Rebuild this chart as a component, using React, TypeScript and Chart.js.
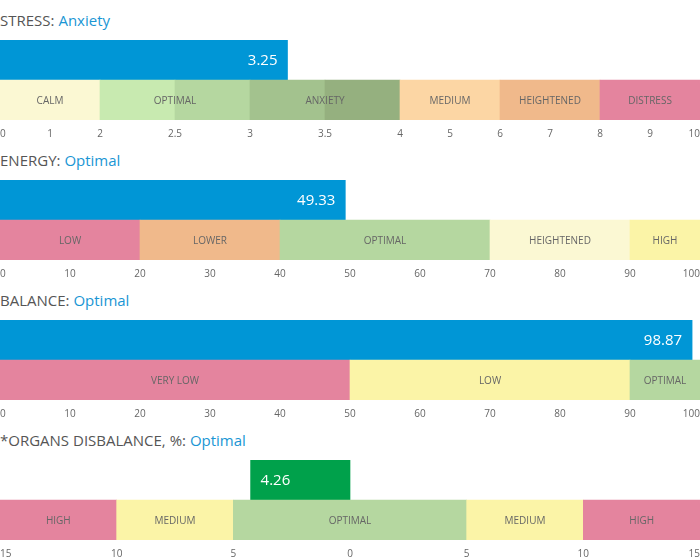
import React, { useEffect, useRef } from 'react';
import { Chart, registerables, LinearScale } from 'chart.js';

// ---------- DATA ----------
const stressTitle = 'STRESS:';
const stressStatus = 'Anxiety';
const stressValue = 3.25;
const stressBandEdges = [0, 2, 2.5, 3, 3.5, 4, 6, 8, 10];
const stressBandColors = ['#fbf8d3', '#c8eab0', '#b5d7a0', '#a3c28e', '#95b07f', '#fcd6a4', '#f0b98b', '#e4849e'];
const stressZoneEdges = [0, 2, 3, 4, 6, 8, 10];
const stressZoneLabels = ['CALM', 'OPTIMAL', 'ANXIETY', 'MEDIUM', 'HEIGHTENED', 'DISTRESS'];
const stressTicks = [0, 1, 2, 2.5, 3, 3.5, 4, 5, 6, 7, 8, 9, 10];
const stressBreaks = [0, 2, 4, 10];
const stressWeights = [1, 3, 3];

const energyTitle = 'ENERGY:';
const energyStatus = 'Optimal';
const energyValue = 49.33;
const energyBandEdges = [0, 20, 40, 70, 90, 100];
const energyBandColors = ['#e4849e', '#f0b98b', '#b5d7a0', '#fbf8d3', '#fbf4a7'];
const energyZoneLabels = ['LOW', 'LOWER', 'OPTIMAL', 'HEIGHTENED', 'HIGH'];

const balanceTitle = 'BALANCE:';
const balanceStatus = 'Optimal';
const balanceValue = 98.87;
const balanceBandEdges = [0, 50, 90, 100];
const balanceBandColors = ['#e4849e', '#fbf4a7', '#b5d7a0'];
const balanceZoneLabels = ['VERY LOW', 'LOW', 'OPTIMAL'];

const organsTitle = '*ORGANS DISBALANCE, %:';
const organsStatus = 'Optimal';
const organsValue = -4.26;
const organsBandEdges = [-15, -10, -5, 5, 10, 15];
const organsBandColors = ['#e4849e', '#fbf4a7', '#b5d7a0', '#fbf4a7', '#e4849e'];
const organsZoneLabels = ['HIGH', 'MEDIUM', 'OPTIMAL', 'MEDIUM', 'HIGH'];

const blueBar = '#0096d6';
const greenBar = '#00a14b';

// ---------- piecewise linear scale ----------
class PiecewiseScale extends (LinearScale as any) {
  static id = 'piecewise';
  static defaults = (LinearScale as any).defaults;
  toDecimal(v: number) {
    const { breaks, weights } = (this as any).options;
    const total = weights.reduce((a: number, b: number) => a + b, 0);
    let acc = 0;
    for (let i = 0; i < weights.length; i++) {
      const a = breaks[i], b = breaks[i + 1];
      if (v <= b || i === weights.length - 1) {
        return (acc + (weights[i] * (v - a)) / (b - a)) / total;
      }
      acc += weights[i];
    }
    return 0;
  }
  getPixelForValue(value: any) {
    if (value === null || value === undefined || isNaN(value)) return NaN;
    return (this as any).getPixelForDecimal(this.toDecimal(value));
  }
  getValueForPixel(pixel: number) {
    const { breaks, weights } = (this as any).options;
    const total = weights.reduce((a: number, b: number) => a + b, 0);
    const d = (this as any).getDecimalForPixel(pixel) * total;
    let acc = 0;
    for (let i = 0; i < weights.length; i++) {
      if (d <= acc + weights[i] || i === weights.length - 1) {
        return breaks[i] + ((d - acc) / weights[i]) * (breaks[i + 1] - breaks[i]);
      }
      acc += weights[i];
    }
    return 0;
  }
  buildTicks() {
    return (this as any).options.tickValues.map((value: number) => ({ value }));
  }
}

Chart.register(...registerables, PiecewiseScale as any);
Chart.defaults.font.family = "'Open Sans', sans-serif";

type GaugeDef = {
  title: string;
  status: string;
  value: number;
  barColor: string;
  bandEdges: number[];
  bandColors: string[];
  zoneEdges: number[];
  zoneLabels: string[];
  scale: any;
};

const commonX = {
  position: 'bottom',
  grid: { display: false, drawTicks: true, tickLength: 8 },
  border: { display: false },
  ticks: { align: 'inner', padding: 0, color: '#666', font: { size: 10 }, autoSkip: false, maxRotation: 0 },
};

const gauges: GaugeDef[] = [
  {
    title: stressTitle, status: stressStatus, value: stressValue, barColor: blueBar,
    bandEdges: stressBandEdges, bandColors: stressBandColors,
    zoneEdges: stressZoneEdges, zoneLabels: stressZoneLabels,
    scale: {
      ...commonX, type: 'piecewise', min: 0, max: 10,
      breaks: stressBreaks, weights: stressWeights, tickValues: stressTicks,
      ticks: { ...commonX.ticks, callback: (v: any) => String(v) },
    },
  },
  {
    title: energyTitle, status: energyStatus, value: energyValue, barColor: blueBar,
    bandEdges: energyBandEdges, bandColors: energyBandColors,
    zoneEdges: energyBandEdges, zoneLabels: energyZoneLabels,
    scale: { ...commonX, type: 'linear', min: 0, max: 100, ticks: { ...commonX.ticks, stepSize: 10 } },
  },
  {
    title: balanceTitle, status: balanceStatus, value: balanceValue, barColor: blueBar,
    bandEdges: balanceBandEdges, bandColors: balanceBandColors,
    zoneEdges: balanceBandEdges, zoneLabels: balanceZoneLabels,
    scale: { ...commonX, type: 'linear', min: 0, max: 100, ticks: { ...commonX.ticks, stepSize: 10 } },
  },
  {
    title: organsTitle, status: organsStatus, value: organsValue, barColor: greenBar,
    bandEdges: organsBandEdges, bandColors: organsBandColors,
    zoneEdges: organsBandEdges, zoneLabels: organsZoneLabels,
    scale: {
      ...commonX, type: 'linear', min: -15, max: 15,
      ticks: { ...commonX.ticks, stepSize: 5, callback: (v: any) => String(Math.abs(Number(v))) },
    },
  },
];

function Gauge({ g }: { g: GaugeDef }) {
  const ref = useRef<HTMLCanvasElement>(null);
  useEffect(() => {
    if (!ref.current) return;
    const data: any[] = [{ y: 'value', x: [0, g.value] }];
    const colors: string[] = [g.barColor];
    for (let i = 0; i < g.bandColors.length; i++) {
      data.push({ y: 'band', x: [g.bandEdges[i], g.bandEdges[i + 1]] });
      colors.push(g.bandColors[i]);
    }
    const labelPlugin = {
      id: 'gaugeLabels',
      afterDatasetsDraw(chart: any) {
        const { ctx } = chart;
        const xs = chart.scales.x;
        const ys = chart.scales.y;
        const yBand = ys.getPixelForValue(1);
        ctx.save();
        ctx.font = "10px 'Open Sans', sans-serif";
        ctx.fillStyle = '#666';
        ctx.textAlign = 'center';
        ctx.textBaseline = 'middle';
        for (let i = 0; i < g.zoneLabels.length; i++) {
          const mid = (g.zoneEdges[i] + g.zoneEdges[i + 1]) / 2;
          ctx.fillText(g.zoneLabels[i], xs.getPixelForValue(mid), yBand + 1);
        }
        const bar = chart.getDatasetMeta(0).data[0];
        ctx.font = "15px 'Open Sans', sans-serif";
        ctx.fillStyle = '#fff';
        const txt = Math.abs(g.value).toFixed(2);
        if (bar.x >= bar.base) {
          ctx.textAlign = 'right';
          ctx.fillText(txt, bar.x - 10, bar.y + 1);
        } else {
          ctx.textAlign = 'left';
          ctx.fillText(txt, bar.x + 10, bar.y + 1);
        }
        ctx.restore();
      },
    };
    const chart = new Chart(ref.current, {
      type: 'bar',
      data: {
        labels: ['value', 'band'],
        datasets: [
          {
            data,
            backgroundColor: colors,
            borderWidth: 0,
            barPercentage: 1,
            categoryPercentage: 1,
          } as any,
        ],
      },
      options: {
        indexAxis: 'y',
        responsive: false,
        animation: false,
        layout: { padding: 0 },
        plugins: { legend: { display: false }, tooltip: { enabled: false } },
        scales: {
          x: g.scale,
          y: { type: 'category', display: false },
        },
      } as any,
      plugins: [labelPlugin],
    });
    return () => chart.destroy();
  }, []);
  return (
    <div style={{ width: 700, height: 140 }}>
      <div
        style={{
          height: 40,
          boxSizing: 'border-box',
          paddingTop: 10,
          lineHeight: '20px',
          fontSize: 15,
          color: '#555',
          fontFamily: "'Open Sans', sans-serif",
          whiteSpace: 'nowrap',
        }}
      >
        {g.title} <span style={{ color: '#1a96d4' }}>{g.status}</span>
      </div>
      <canvas ref={ref} width={700} height={100} style={{ display: 'block', width: 700, height: 100 }} />
    </div>
  );
}

export default function App() {
  return (
    <div style={{ position: 'absolute', left: 0, top: 0, width: 700, height: 560, background: '#fff' }}>
      {gauges.map((g, i) => (
        <Gauge key={i} g={g} />
      ))}
    </div>
  );
}
